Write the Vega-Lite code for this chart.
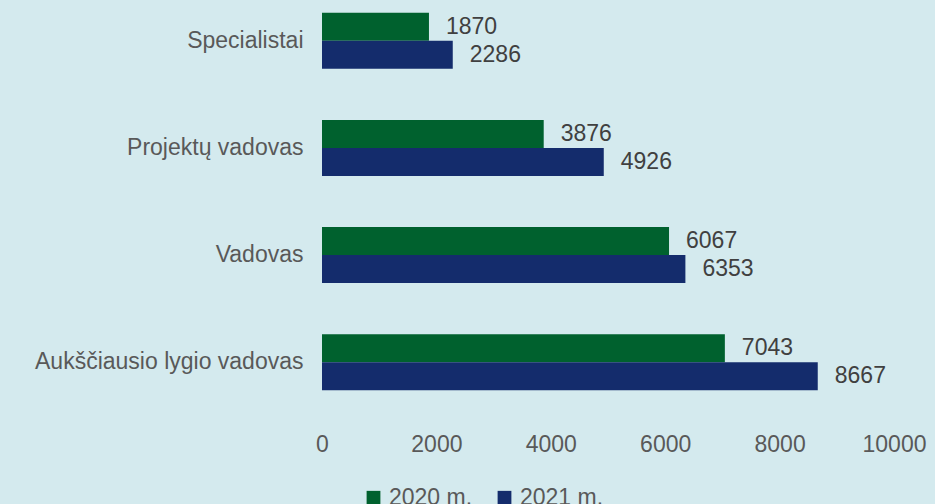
{
  "$schema": "https://vega.github.io/schema/vega-lite/v6.json",
  "width": 572,
  "height": 403,
  "autosize": {"type": "none"},
  "padding": {"left": 322, "top": 0, "right": 41, "bottom": 101},
  "background": "#d4eaee",
  "config": {
    "view": {"stroke": null},
    "font": "Liberation Sans",
    "axis": {"labelFont": "Liberation Sans", "labelColor": "#595959", "labelFontSize": 23},
    "legend": {"labelFont": "Liberation Sans", "labelColor": "#595959", "labelFontSize": 23}
  },
  "data": {
    "values": [
      {"category": "Specialistai", "year": "2020 m.", "value": 1870},
      {"category": "Specialistai", "year": "2021 m.", "value": 2286},
      {"category": "Projektų vadovas", "year": "2020 m.", "value": 3876},
      {"category": "Projektų vadovas", "year": "2021 m.", "value": 4926},
      {"category": "Vadovas", "year": "2020 m.", "value": 6067},
      {"category": "Vadovas", "year": "2021 m.", "value": 6353},
      {"category": "Aukščiausio lygio vadovas", "year": "2020 m.", "value": 7043},
      {"category": "Aukščiausio lygio vadovas", "year": "2021 m.", "value": 8667}
    ]
  },
  "encoding": {
    "y": {
      "field": "category",
      "type": "nominal",
      "sort": null,
      "scale": {"paddingInner": 0.477, "paddingOuter": 0.12},
      "axis": {"title": null, "domain": false, "ticks": false, "labelPadding": 19, "labelLimit": 400}
    },
    "yOffset": {"field": "year", "type": "nominal", "sort": ["2020 m.", "2021 m."], "scale": {"paddingInner": 0, "paddingOuter": 0}},
    "x": {
      "field": "value",
      "type": "quantitative",
      "scale": {"domain": [0, 10000], "nice": false},
      "axis": {"title": null, "domain": false, "ticks": false, "grid": false, "values": [0, 2000, 4000, 6000, 8000, 10000], "labelPadding": 30, "format": "d", "labelFlush": false}
    }
  },
  "layer": [
    {
      "mark": {"type": "bar"},
      "encoding": {
        "color": {
          "field": "year",
          "type": "nominal",
          "scale": {"domain": ["2020 m.", "2021 m."], "range": ["#00612e", "#142c6c"]},
          "legend": {
            "title": null,
            "orient": "none",
            "direction": "horizontal",
            "legendX": 40,
            "legendY": 486,
            "symbolType": "square",
            "symbolSize": 190,
            "symbolStrokeWidth": 0,
            "symbolOpacity": 1,
            "columnPadding": 20,
            "labelOffset": 4
          }
        }
      }
    },
    {
      "mark": {"type": "text", "align": "left", "baseline": "middle", "dx": 17, "fontSize": 23, "color": "#404040", "font": "Liberation Sans"},
      "encoding": {"text": {"field": "value", "type": "quantitative", "format": "d"}}
    }
  ]
}
